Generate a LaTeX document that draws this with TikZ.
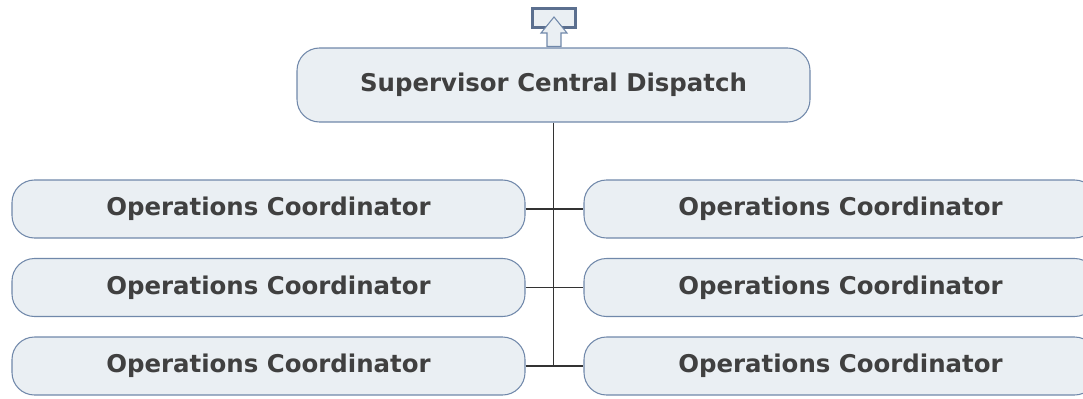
\documentclass[tikz,border=0pt]{standalone}
\usepackage{fontspec}
\setmainfont{DejaVu Sans}
\usetikzlibrary{positioning, arrows.meta}

\definecolor{boxfill}{HTML}{EAEFF3}
\definecolor{boxline}{HTML}{7088AA}
\definecolor{txtgray}{HTML}{404040}
\definecolor{linegray}{HTML}{333333}
\definecolor{iconline}{HTML}{5B6F8F}

\begin{document}
\begin{tikzpicture}[
    ruolo/.style={draw=boxline, fill=boxfill, line width=0.6pt, rounded corners=0.45cm,
        minimum width=10.26cm, minimum height=1.16cm, inner sep=0pt,
        font=\fontsize{13.9pt}{16pt}\selectfont\bfseries, text=txtgray},
    capo/.style={ruolo, minimum height=1.48cm},
    link/.style={draw=linegray, line width=0.8pt}
]

    \useasboundingbox (0,0) rectangle (21.66,7.96);
    \clip (0,0) rectangle (21.66,7.96);

    % icona in alto
    \draw[iconline, line width=1.6pt, fill=boxfill] (10.65,7.41) rectangle (11.51,7.79);
    \draw[boxline, line width=0.6pt, fill=boxfill]
        (10.94,7.03) -- (10.94,7.30) -- (10.82,7.30) -- (11.08,7.62)
        -- (11.34,7.30) -- (11.22,7.30) -- (11.22,7.03) -- cycle;

    % nodo principale
    \node[capo] (sup) at (11.07,6.26) {Supervisor Central Dispatch};

    % coordinatori
    \node[ruolo] (op1) at (5.37,3.78) {Operations Coordinator};
    \node[ruolo] (op2) at (16.81,3.78) {Operations Coordinator};
    \node[ruolo] (op3) at (5.37,2.21) {Operations Coordinator};
    \node[ruolo] (op4) at (16.81,2.21) {Operations Coordinator};
    \node[ruolo] (op5) at (5.37,0.64) {Operations Coordinator};
    \node[ruolo] (op6) at (16.81,0.64) {Operations Coordinator};

    % collegamenti
    \coordinate (fine) at (sup.south |- op5.east);
    \draw[link] (sup.south) -- (fine);
    \foreach \a/\b in {op1/op2, op3/op4, op5/op6}
        \draw[link] (\a.east) -- (\b.west);

\end{tikzpicture}
\end{document}
